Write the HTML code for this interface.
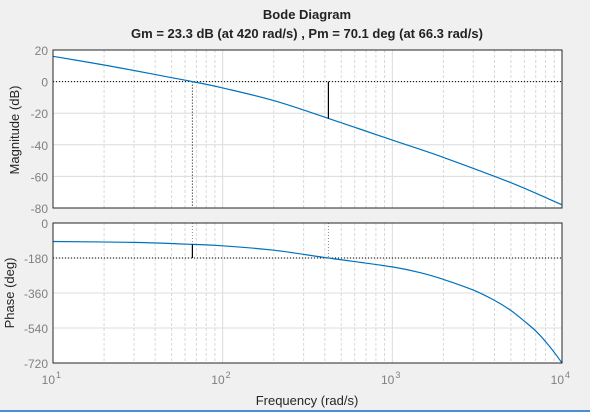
<!DOCTYPE html>
<html><head><meta charset="utf-8"><style>
body{margin:0;background:#f0f0f0;}
svg{display:block;font-family:"Liberation Sans",sans-serif;}
</style></head><body>
<svg width="590" height="412">
<text x="307" y="19" text-anchor="middle" font-size="13" font-weight="bold" fill="#222">Bode Diagram</text>
<text x="307" y="38" text-anchor="middle" font-size="13" font-weight="bold" fill="#222">Gm = 23.3 dB (at 420 rad/s) ,  Pm = 70.1 deg (at 66.3 rad/s)</text>
<g id="mag"></g>
<g id="ph"></g>
<text transform="translate(19,130) rotate(-90)" text-anchor="middle" font-size="13" fill="#262626">Magnitude (dB)</text>
<text transform="translate(14,293) rotate(-90)" text-anchor="middle" font-size="13" fill="#262626">Phase (deg)</text>
<text x="307" y="405" text-anchor="middle" font-size="13" fill="#262626">Frequency  (rad/s)</text>
<rect x="0" y="410" width="590" height="2" fill="#4a90d9"/>
</svg>
<script>
const magFreq=[10,20,30,50,66.3,100,200,420,1000,2000,5000,10000];
const magVals=[16,10.5,7,2.5,0,-4,-12,-23.3,-37,-48,-64,-78];
const phFreq=[10,30,66.3,100,200,420,1000,1500,2000,3000,4000,5000,6000,7000,8000,9000,10000];
const phVals=[-95,-100,-110,-117,-140,-180,-226,-258,-290,-345,-398,-450,-505,-555,-610,-665,-720];
const magTicks=[20,0,-20,-40,-60,-80];
const phTicks=[0,-180,-360,-540,-720];
const decades=[1,2,3,4];
const gm={w:420,db:-23.3}, pm={w:66.3,ph:-109.9};
const NS="http://www.w3.org/2000/svg";
const X0=53,X1=562;
const xs=w=>X0+(Math.log10(w)-1)/3*(X1-X0);
function mk(p,t,a){const e=document.createElementNS(NS,t);for(const k in a)e.setAttribute(k,a[k]);p.appendChild(e);return e;}
function axes(g,top,bot,ymax,ymin,ticks,name){
 const ys=v=>top+(ymax-v)/(ymax-ymin)*(bot-top);
 const r=mk(g,'rect',{x:X0,y:top,width:X1-X0,height:bot-top,fill:'#fff'});
 
 
 for(let d=1;d<4;d++)for(let m=2;m<10;m++){const x=xs(m*Math.pow(10,d));
  mk(g,'line',{x1:x,x2:x,y1:top,y2:bot,stroke:'#d8d8d8','stroke-dasharray':'3,2','stroke-width':1});}
 for(let d=2;d<4;d++){const x=xs(Math.pow(10,d));mk(g,'line',{x1:x,x2:x,y1:top,y2:bot,stroke:'#dcdcdc'});}
 ticks.forEach(v=>{const y=ys(v);
  mk(g,'line',{x1:X0,x2:X1,y1:y,y2:y,stroke:'#dcdcdc'});
  const t=mk(g,'text',{x:X0-5,y:y+5,'text-anchor':'end','font-size':12,fill:'#808080'});t.textContent=String(v);
  
  });
 return ys;
}
const mg=document.getElementById('mag'),pg=document.getElementById('ph');
const my=axes(mg,50,208,20,-80,magTicks,'magnitude');
const py=axes(pg,223,363,0,-720,phTicks,'phase');
mk(mg,'line',{x1:X0,x2:X1,y1:my(0),y2:my(0),stroke:'#000','stroke-dasharray':'1,2'});
mk(mg,'line',{x1:xs(pm.w),x2:xs(pm.w),y1:my(0),y2:208,stroke:'#000','stroke-dasharray':'1,2'});
mk(pg,'line',{x1:X0,x2:X1,y1:py(-180),y2:py(-180),stroke:'#000','stroke-dasharray':'1,2'});
mk(pg,'line',{x1:xs(pm.w),x2:xs(pm.w),y1:223,y2:py(pm.ph),stroke:'#888','stroke-dasharray':'1,2'});
mk(pg,'line',{x1:xs(gm.w),x2:xs(gm.w),y1:223,y2:py(-180),stroke:'#888','stroke-dasharray':'1,2'});
function curve(g,f,v,ys,name){
 const P=f.map((w,i)=>[xs(w),ys(v[i])]);
 let d='M'+P[0][0].toFixed(1)+','+P[0][1].toFixed(1);
 for(let i=0;i<P.length-1;i++){
  const p0=P[Math.max(i-1,0)],p1=P[i],p2=P[i+1],p3=P[Math.min(i+2,P.length-1)];
  const c1=[p1[0]+(p2[0]-p0[0])/6,p1[1]+(p2[1]-p0[1])/6];
  const c2=[p2[0]-(p3[0]-p1[0])/6,p2[1]-(p3[1]-p1[1])/6];
  d+='C'+c1.map(n=>n.toFixed(1))+' '+c2.map(n=>n.toFixed(1))+' '+p2.map(n=>n.toFixed(1));
 }
 const p=mk(g,'path',{d:d,fill:'none',stroke:'#0072bd','stroke-width':1.2,'stroke-linejoin':'round'});
 
 
}
curve(mg,magFreq,magVals,my,'magnitude-curve');
curve(pg,phFreq,phVals,py,'phase-curve');
const g1=mk(mg,'line',{x1:xs(gm.w),x2:xs(gm.w),y1:my(0),y2:my(gm.db),stroke:'#000','stroke-width':1.2});


const p1=mk(pg,'line',{x1:xs(pm.w),x2:xs(pm.w),y1:py(-180),y2:py(pm.ph),stroke:'#000','stroke-width':1.2});


mk(mg,'rect',{x:X0,y:50,width:X1-X0,height:158,fill:'none',stroke:'#262626','stroke-width':1});
mk(pg,'rect',{x:X0,y:223,width:X1-X0,height:140,fill:'none',stroke:'#262626','stroke-width':1});
decades.forEach(d=>{const x=xs(Math.pow(10,d));
 const t=mk(pg,'text',{x:x+2,y:384,'text-anchor':'end','font-size':12,fill:'#808080'});
 t.textContent='10';
 
 
 const s=mk(pg,'text',{x:x+3,y:378,'font-size':9,fill:'#808080'});s.textContent=String(d);});
</script>
</body></html>
